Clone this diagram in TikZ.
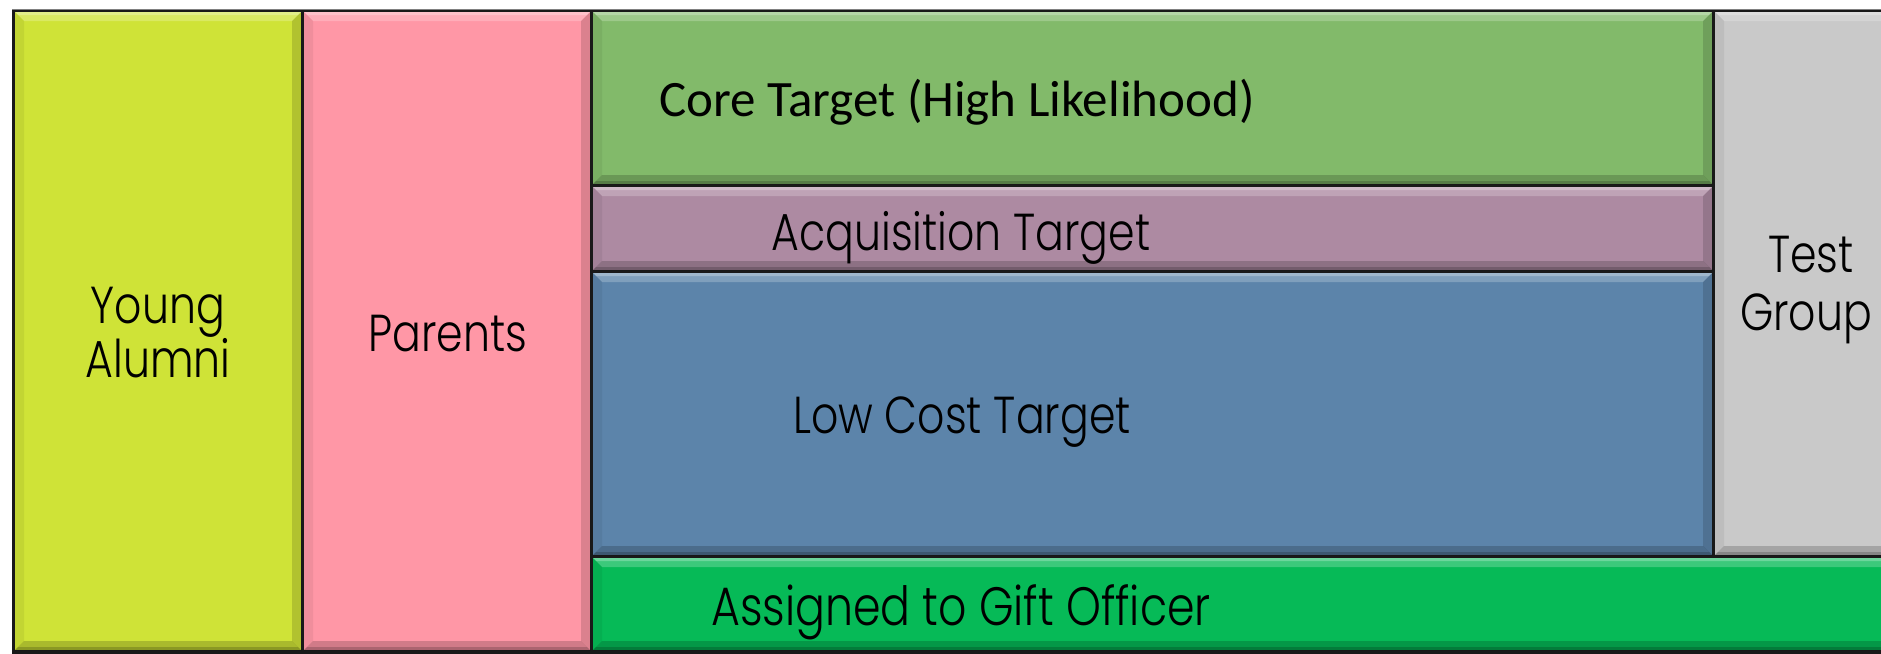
\documentclass[tikz,border=0pt]{standalone}
\usepackage{fontspec}
\setmainfont{Carlito}
\newfontfamily\gothic{Poppins}[UprightFont=* Light, FakeStretch=0.82]
\newfontfamily\calib{Carlito}

\definecolor{yellowc}{HTML}{CFE337}
\definecolor{pinkc}{HTML}{FF97A6}
\definecolor{greenc}{HTML}{82BA6A}
\definecolor{purplec}{HTML}{AD8AA2}
\definecolor{bluec}{HTML}{5C84AA}
\definecolor{greyc}{HTML}{C9C9C9}
\definecolor{giftc}{HTML}{06BA57}

\def\pnlbev{9pt}
\def\pnlin{3pt}

\tikzset{
  panel/.style={rectangle, draw=none, inner sep=0pt, outer sep=0pt, anchor=north west,
    path picture={
      % top highlight
      \fill[white, opacity=0.22]
        (path picture bounding box.north west) -- (path picture bounding box.north east)
        -- ([xshift=-\pnlbev,yshift=-\pnlbev]path picture bounding box.north east)
        -- ([xshift=\pnlbev,yshift=-\pnlbev]path picture bounding box.north west) -- cycle;
      \fill[white, opacity=0.25]
        (path picture bounding box.north west) -- (path picture bounding box.north east)
        -- ([xshift=-\pnlin,yshift=-\pnlin]path picture bounding box.north east)
        -- ([xshift=\pnlin,yshift=-\pnlin]path picture bounding box.north west) -- cycle;
      % bottom shadow
      \fill[black, opacity=0.18]
        (path picture bounding box.south west) -- (path picture bounding box.south east)
        -- ([xshift=-\pnlbev,yshift=\pnlbev]path picture bounding box.south east)
        -- ([xshift=\pnlbev,yshift=\pnlbev]path picture bounding box.south west) -- cycle;
      \fill[black, opacity=0.18]
        (path picture bounding box.south west) -- (path picture bounding box.south east)
        -- ([xshift=-\pnlin,yshift=\pnlin]path picture bounding box.south east)
        -- ([xshift=\pnlin,yshift=\pnlin]path picture bounding box.south west) -- cycle;
      % right shadow
      \fill[black, opacity=0.14]
        (path picture bounding box.north east) -- (path picture bounding box.south east)
        -- ([xshift=-\pnlbev,yshift=\pnlbev]path picture bounding box.south east)
        -- ([xshift=-\pnlbev,yshift=-\pnlbev]path picture bounding box.north east) -- cycle;
      % left shade
      \fill[black, opacity=0.06]
        (path picture bounding box.north west) -- (path picture bounding box.south west)
        -- ([xshift=\pnlbev,yshift=\pnlbev]path picture bounding box.south west)
        -- ([xshift=\pnlbev,yshift=-\pnlbev]path picture bounding box.north west) -- cycle;
    }},
  lbl/.style={inner sep=0pt, outer sep=0pt, text=black, font=\gothic\fontsize{52}{54}\selectfont, align=center},
}

\begin{document}
\begin{tikzpicture}[x=1pt, y=-1pt]
  \useasboundingbox (0,0) rectangle (1881,653);
  \clip (0,0) rectangle (1881,653);
  \fill[white] (0,0) rectangle (1881,653);
  % dark frame showing through the gaps between panels
  \fill[black!90] (12,9) rectangle (1900,660);
  \draw[gray, line width=1pt] (12,9.5) -- (1900,9.5);

  % panels
  \node[panel, fill=yellowc, minimum width=286pt, minimum height=638pt] (ya) at (15,12) {};
  \node[panel, fill=pinkc,   minimum width=286pt, minimum height=638pt] (pa) at (304,12) {};
  \node[panel, fill=greenc,  minimum width=1119pt, minimum height=172pt] (core) at (593,12) {};
  \node[panel, fill=purplec, minimum width=1119pt, minimum height=83pt] (acq) at (593,187) {};
  \node[panel, fill=bluec,   minimum width=1119pt, minimum height=282pt] (low) at (593,273) {};
  \node[panel, fill=greyc,   minimum width=190pt, minimum height=543pt] (test) at (1715,12) {};
  \node[panel, fill=giftc,   minimum width=1310pt, minimum height=92pt] (gift) at (593,558) {};

  % labels
  \node[lbl] (yatext) at (158,333) {Young\\Alumni};
  \node[lbl] (patext) at (448,334) {Parents};
  \node[inner sep=0pt, anchor=west, font=\calib\fontsize{51}{56}\selectfont] (coretext) at (659,102) {Core Target (High Likelihood)};
  \node[lbl] (acqtext) at (961,238) {Acquisition Target};
  \node[lbl] (lowtext) at (962,422) {Low Cost Target};
  \node[lbl, font=\gothic\fontsize{54}{56}\selectfont] (gifttext) at (961,612) {Assigned to Gift Officer};
  \node[lbl, align=left, anchor=west, font=\gothic\fontsize{52}{58}\selectfont] (testtext) at (1740,290) {\hspace*{28pt}Test\\Group};
\end{tikzpicture}
\end{document}
